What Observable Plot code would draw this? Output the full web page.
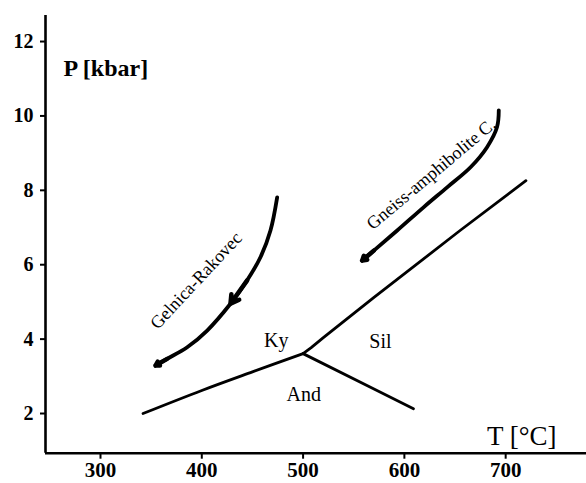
<!DOCTYPE html>
<html>
<head>
<meta charset="utf-8">
<script src="https://cdn.jsdelivr.net/npm/d3@7"></script>
<script src="https://cdn.jsdelivr.net/npm/@observablehq/plot@0.6"></script>
<style>
  html, body { margin: 0; padding: 0; background: #fff; }
  #chart { width: 586px; height: 483px; }
</style>
</head>
<body>
<div id="chart"></div>
<script>
// Tick values
const xTicks = [300, 400, 500, 600, 700];
const yTicks = [2, 4, 6, 8, 10, 12];

// Phase boundaries (T in °C, P in kbar)
const kyAndT = [342, 400, 450, 500];
const kyAndP = [2.0, 2.62, 3.12, 3.61];
const andSilT = [500, 570, 609];
const andSilP = [3.61, 2.66, 2.13];
const kySilT = [500, 508, 520, 570, 655, 720];
const kySilP = [3.61, 3.77, 4.04, 5.12, 6.92, 8.26];

// P-T paths
const gelnicaT = [474.4, 467.8, 457.9, 444.8, 428.3, 405.3, 385.6, 365.8, 354.3];
const gelnicaP = [7.81, 6.92, 6.20, 5.58, 4.95, 4.23, 3.78, 3.47, 3.29];
const gneissT = [693.2, 691.5, 681.6, 665.3, 642.2, 619.2, 592.9, 569.8, 558.3];
const gneissP = [10.15, 9.70, 9.16, 8.62, 8.08, 7.55, 6.92, 6.38, 6.11];

// Field labels
const fieldNames = ["Ky", "Sil", "And"];
const fieldT = [473.5, 576.4, 500.7];
const fieldP = [3.96, 3.92, 2.51];

// Path labels
const pathNames = ["Gelnica-Rakovec", "Gneiss-amphibolite C."];
const pathT = [394.3, 626.4];
const pathP = [5.57, 8.44];
const pathAngle = [-47, -40];

const toPts = (T, P) => T.map((t, i) => ({T: t, P: P[i]}));
const kyAnd = toPts(kyAndT, kyAndP);
const andSil = toPts(andSilT, andSilP);
const kySil = toPts(kySilT, kySilP);
const gel = toPts(gelnicaT, gelnicaP);
const gne = toPts(gneissT, gneissP);

const xMin = 245.7, xMax = 779.8, yMin = 0.933, yMax = 12.70;
const font = "'Liberation Serif', 'Times New Roman', serif";

const lastSeg = (pts) => [{x1: pts[pts.length - 2].T, y1: pts[pts.length - 2].P, x2: pts[pts.length - 1].T, y2: pts[pts.length - 1].P}];
const midSeg = [{x1: gel[3].T, y1: gel[3].P, x2: gel[4].T, y2: gel[4].P}];

const plot = Plot.plot({
  width: 586,
  height: 483,
  marginLeft: 45,
  marginRight: 0,
  marginTop: 15,
  marginBottom: 30.3,
  style: {fontFamily: font, background: "#fff", color: "#000"},
  x: {domain: [xMin, xMax]},
  y: {domain: [yMin, yMax]},
  marks: [
    Plot.axisX({ticks: xTicks, tickSize: 6, tickFormat: () => "", label: null, strokeWidth: 2}),
    Plot.axisY({ticks: yTicks, tickSize: 5, tickFormat: () => "", label: null, strokeWidth: 2}),
    Plot.text(xTicks, {x: d => d, y: yMin, dy: 17.5, text: d => String(d), fontSize: 21, fontWeight: "bold", fill: "#000", lineAnchor: "middle"}),
    Plot.text(yTicks, {x: xMin, y: d => d, dx: -12, text: d => String(d), fontSize: 20, fontWeight: "bold", fill: "#000", textAnchor: "end", lineAnchor: "middle"}),
    Plot.ruleX([xMin], {y1: yMin, y2: yMax, strokeWidth: 2.6}),
    Plot.ruleY([yMin], {x1: xMin, x2: xMax, strokeWidth: 2.6}),
    Plot.line(kyAnd, {x: "T", y: "P", strokeWidth: 2.8, curve: "catmull-rom"}),
    Plot.line(andSil, {x: "T", y: "P", strokeWidth: 2.8}),
    Plot.line(kySil, {x: "T", y: "P", strokeWidth: 2.8}),
    Plot.line(gel, {x: "T", y: "P", strokeWidth: 3.8, curve: "catmull-rom"}),
    Plot.line(gne, {x: "T", y: "P", strokeWidth: 3.8, curve: "catmull-rom"}),
    Plot.arrow(lastSeg(gel), {x1: "x1", y1: "y1", x2: "x2", y2: "y2", strokeWidth: 4.5, headLength: 17, headAngle: 60}),
    Plot.arrow(midSeg, {x1: "x1", y1: "y1", x2: "x2", y2: "y2", strokeWidth: 4.5, headLength: 15, headAngle: 60}),
    Plot.arrow(lastSeg(gne), {x1: "x1", y1: "y1", x2: "x2", y2: "y2", strokeWidth: 4.5, headLength: 19, headAngle: 60}),
    Plot.text(fieldNames, {x: (d, i) => fieldT[i], y: (d, i) => fieldP[i], text: d => d, fontSize: 20, fill: "#000"}),
    Plot.text([0], {x: () => pathT[0], y: () => pathP[0], text: () => pathNames[0], rotate: pathAngle[0], fontSize: 18, fill: "#000"}),
    Plot.text([0], {x: () => pathT[1], y: () => pathP[1], text: () => pathNames[1], rotate: pathAngle[1], fontSize: 18, fill: "#000"}),
    Plot.text(["P [kbar]"], {x: xMin, y: yMax, dx: 18, dy: 60, text: d => d, textAnchor: "start", lineAnchor: "bottom", fontSize: 24, fontWeight: "bold", fill: "#000"}),
    Plot.text(["T [°C]"], {x: xMax, y: yMin, dx: -30, dy: -8, text: d => d, textAnchor: "end", lineAnchor: "bottom", fontSize: 27, fill: "#000"})
  ]
});
document.getElementById("chart").appendChild(plot);
</script>
</body>
</html>
